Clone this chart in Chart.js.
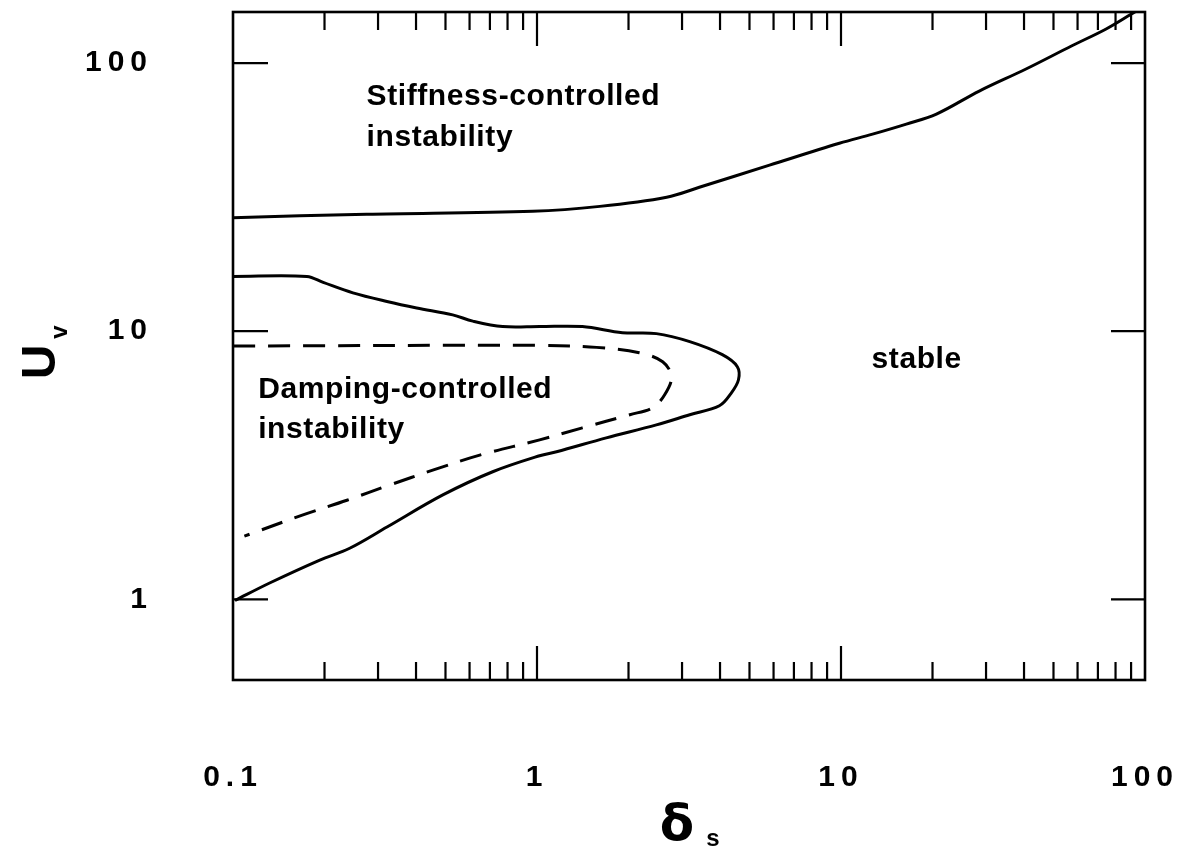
<!DOCTYPE html>
<html>
<head>
<meta charset="utf-8">
<script src="https://cdn.jsdelivr.net/npm/chart.js@4.4.1/dist/chart.umd.min.js"></script>
<style>
  html, body { margin: 0; padding: 0; background: #fff; }
  #wrap { width: 1198px; height: 850px; }
</style>
</head>
<body>
<div id="wrap"><canvas id="stabChart" width="1198" height="850"></canvas></div>
<script>
// boundary curves (delta_s, U_v)
var stiffX = [0.1, 0.275, 0.968, 1.61, 2.67, 3.42, 5.82, 9.88, 12.7, 16.4, 20.6, 28.5, 40.6, 57.5, 74.5, 93.5, 100];
var stiffY = [26.5, 27.3, 28.0, 29.2, 31.6, 34.4, 41.6, 50.2, 54.3, 59.2, 64.5, 78.6, 95, 116, 134, 156, 162];

var dampX = [0.1, 0.175, 0.198, 0.248, 0.321, 0.402, 0.528, 0.615, 0.771, 1.02, 1.41, 1.91, 2.47, 3.18, 4.07, 4.56,
             4.60, 4.36, 3.98, 3.18, 2.47, 1.69, 1.16, 1.02, 0.715, 0.49, 0.321, 0.242, 0.193, 0.132, 0.1015];
var dampY = [16.0, 16.0, 15.2, 13.9, 12.9, 12.2, 11.5, 10.9, 10.4, 10.4, 10.4, 9.87, 9.79, 9.14, 8.17, 7.37,
             6.59, 5.89, 5.27, 4.88, 4.47, 4.0, 3.55, 3.43, 2.99, 2.45, 1.86, 1.55, 1.40, 1.15, 0.99];

var dashX = [0.1, 1.02, 1.57, 2.17, 2.59, 2.77, 2.63, 2.40, 2.02, 1.41, 1.02, 0.648, 0.454, 0.328, 0.237, 0.169, 0.120, 0.109];
var dashY = [8.8, 8.85, 8.7, 8.31, 7.69, 6.76, 5.79, 5.18, 4.88, 4.36, 3.93, 3.45, 3.03, 2.67, 2.34, 2.06, 1.79, 1.72];

var xTickValues = [0.1, 1, 10, 100];
var xTickLabels = ['0.1', '1', '10', '100'];
var yTickValues = [1, 10, 100];
var yTickLabels = ['1', '10', '100'];

// region names, anchored in data coordinates
var notes = [
    { text: 'Stiffness-controlled', x: 0.275, y: 69.6 },
    { text: 'instability', x: 0.275, y: 49 },
    { text: 'Damping-controlled', x: 0.121, y: 5.64 },
    { text: 'instability', x: 0.121, y: 4.0 },
    { text: 'stable', x: 12.6, y: 7.31 }
];

function pts(xs, ys) {
    var out = [];
    for (var i = 0; i < xs.length; i++) out.push({ x: xs[i], y: ys[i] });
    return out;
}

var FONT = '"Liberation Sans", Arial, Helvetica, sans-serif';

// keep the plot box where the original has it
function noEdgePadding(scale) {
    scale.paddingTop = 0;
    scale.paddingBottom = 0;
    scale.paddingLeft = 0;
    scale.paddingRight = 0;
}

var framePlugin = {
    id: 'frame',
    beforeDraw: function (chart) {
        chart.ctx.letterSpacing = '6px';   // spaced tick numbers
    },
    beforeDatasetsDraw: function (chart) {
        chart.ctx.letterSpacing = '0px';
    },
    afterDraw: function (chart) {
        var ctx = chart.ctx, a = chart.chartArea;
        var xs = chart.scales.x, ys = chart.scales.y;
        ctx.save();
        ctx.strokeStyle = '#000';
        ctx.lineWidth = 2.6;
        ctx.strokeRect(a.left, a.top, a.right - a.left, a.bottom - a.top);

        // inward tick marks, top and bottom
        ctx.lineWidth = 2.2;
        ctx.beginPath();
        [0.1, 1, 10].forEach(function (d) {
            for (var k = 1; k <= 9; k++) {
                var v = d * k;
                if (v <= 0.1) continue;
                var px = xs.getPixelForValue(v);
                var len = (k === 1) ? 34 : 18;
                ctx.moveTo(px, a.top); ctx.lineTo(px, a.top + len);
                ctx.moveTo(px, a.bottom); ctx.lineTo(px, a.bottom - len);
            }
        });
        // left and right ticks on decades
        yTickValues.forEach(function (v) {
            var py = ys.getPixelForValue(v);
            ctx.moveTo(a.left, py); ctx.lineTo(a.left + 35, py);
            ctx.moveTo(a.right, py); ctx.lineTo(a.right - 34, py);
        });
        ctx.stroke();

        // region labels
        ctx.fillStyle = '#000';
        ctx.font = 'bold 30px ' + FONT;
        ctx.letterSpacing = '0.6px';
        ctx.textAlign = 'left';
        ctx.textBaseline = 'alphabetic';
        notes.forEach(function (n) {
            ctx.fillText(n.text, xs.getPixelForValue(n.x), ys.getPixelForValue(n.y));
        });
        ctx.letterSpacing = '0px';

        // axis titles with subscripts
        var cx = (a.left + a.right) / 2;
        ctx.font = 'bold 50px "DejaVu Sans", ' + FONT;
        ctx.textAlign = 'center';
        ctx.fillText('\u03b4', cx - 12, 840);
        ctx.font = 'bold 24px ' + FONT;
        ctx.fillText('s', cx + 24, 846);

        ctx.translate(55, (a.top + a.bottom) / 2 + 16);
        ctx.rotate(-Math.PI / 2);
        ctx.font = 'bold 48px ' + FONT;
        ctx.textAlign = 'center';
        ctx.fillText('U', 0, 0);
        ctx.font = 'bold 24px ' + FONT;
        ctx.fillText('v', 30, 12);
        ctx.restore();
    }
};

var lineStyle = {
    showLine: true,
    borderColor: '#000',
    borderWidth: 3,
    pointRadius: 0,
    tension: 0.35,
    fill: false
};

var config = {
    type: 'scatter',
    data: {
        datasets: [
            Object.assign({ label: 'stiffness boundary', data: pts(stiffX, stiffY) }, lineStyle),
            Object.assign({ label: 'damping boundary', data: pts(dampX, dampY) }, lineStyle),
            Object.assign({ label: 'damping boundary (dashed)', data: pts(dashX, dashY), borderDash: [22, 13] }, lineStyle)
        ]
    },
    options: {
        responsive: false,
        animation: false,
        layout: { padding: { left: 0, right: 53, top: 12, bottom: 0 } },
        plugins: {
            legend: { display: false },
            tooltip: { enabled: false }
        },
        scales: {
            x: {
                type: 'logarithmic',
                min: 0.1,
                max: 100,
                grid: { display: false, drawTicks: false },
                border: { display: false },
                afterBuildTicks: function (scale) {
                    scale.ticks = xTickValues.map(function (v) { return { value: v }; });
                },
                afterFit: function (scale) {
                    scale.height = 170;
                    noEdgePadding(scale);
                },
                ticks: {
                    autoSkip: false,
                    maxRotation: 0,
                    minRotation: 0,
                    padding: 80,
                    color: '#000',
                    font: { family: FONT, size: 30, weight: 'bold' },
                    callback: function (value, index) { return xTickLabels[index]; }
                }
            },
            y: {
                type: 'logarithmic',
                min: 0.5,
                max: 155,
                grid: { display: false, drawTicks: false },
                border: { display: false },
                afterBuildTicks: function (scale) {
                    scale.ticks = yTickValues.map(function (v) { return { value: v }; });
                },
                afterFit: function (scale) {
                    scale.width = 233;
                    noEdgePadding(scale);
                },
                ticks: {
                    autoSkip: false,
                    padding: 80,
                    color: '#000',
                    font: { family: FONT, size: 30, weight: 'bold' },
                    callback: function (value, index) { return yTickLabels[index]; }
                }
            }
        }
    },
    plugins: [framePlugin]
};

var ctx = document.getElementById('stabChart');
window.stabChart = new Chart(ctx, config);
</script>
</body>
</html>
